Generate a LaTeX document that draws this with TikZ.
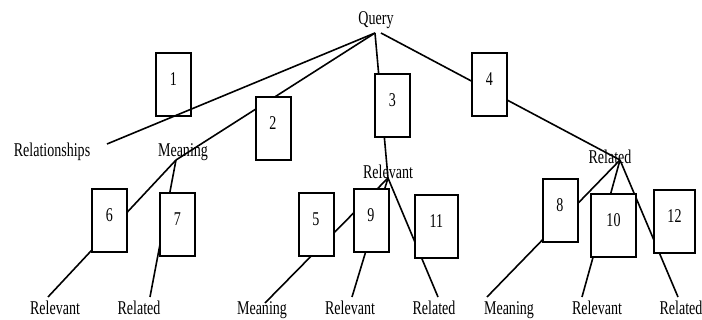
\documentclass[tikz,border=0pt]{standalone}
\usepackage{fontspec}
\setmainfont{Liberation Serif}[FakeStretch=0.72]
\begin{document}
\begin{tikzpicture}[x=0.5pt, y=-0.5pt, font=\fontsize{9.75}{11}\selectfont,
  word/.style={anchor=base, inner sep=0pt},
  box/.style={draw, line width=1pt, fill=white, minimum width=17.5pt, minimum height=31.5pt,
    inner sep=0pt, text height=6.6pt, text depth=6pt},
  link/.style={line width=0.8pt}]
\useasboundingbox (0,0) rectangle (702,320);

% words
\node[word] (query) at (376,25) {Query};
\node[word] (rels) at (52,157) {Relationships};
\node[word] (mean) at (183,157) {Meaning};
\node[word] (relv) at (388,179) {Relevant};
\node[word] (relt) at (610,164) {Related};
\node[word] (relvA) at (55,315) {Relevant};
\node[word] (reltA) at (139,315) {Related};
\node[word] (meanB) at (262,315) {Meaning};
\node[word] (relvB) at (350,315) {Relevant};
\node[word] (reltB) at (434,315) {Related};
\node[word] (meanC) at (509,315) {Meaning};
\node[word] (relvC) at (597,315) {Relevant};
\node[word] (reltC) at (681,315) {Related};

% line ends
\coordinate (qa) at (375,33);
\coordinate (qb) at (381,33);
\coordinate (ra) at (107,144);
\coordinate (ma) at (176,160);
\coordinate (va) at (388,178);
\coordinate (ta) at (620,160);
\coordinate (e1) at (48,297);
\coordinate (e2) at (150,297);
\coordinate (e3) at (265,303);
\coordinate (e4) at (352,297);
\coordinate (e5) at (438,297);
\coordinate (e6) at (487,297);
\coordinate (e7) at (582,297);
\coordinate (e8) at (678,297);

\path[link]
  (qa) edge (ra)  (qa) edge (ma)  (qa) edge (va)  (qb) edge (ta)
  (ma) edge (e1)  (ma) edge (e2)
  (va) edge (e3)  (va) edge (e4)  (va) edge (e5)
  (ta) edge (e6)  (ta) edge (e7)  (ta) edge (e8)
  ;

% numbered boxes
\node[box, fill=none] (n1) at (173.5,85) {1};
\node[box] (n2) at (273,128.5) {2};
\node[box] (n3) at (392.5,105.5) {3};
\node[box] (n4) at (489.5,85) {4};
\node[box] (n5) at (316,224.5) {5};
\node[box] (n6) at (109.5,221) {6};
\node[box] (n7) at (177.5,224.5) {7};
\node[box] (n8) at (560,211) {8};
\node[box] (n9) at (371,221) {9};
\node[box, minimum width=22.5pt] (n10) at (613.5,226) {10};
\node[box, minimum width=21.5pt] (n11) at (436.5,226.5) {11};
\node[box, minimum width=20.5pt] (n12) at (674.5,221.5) {12};
\end{tikzpicture}
\end{document}
